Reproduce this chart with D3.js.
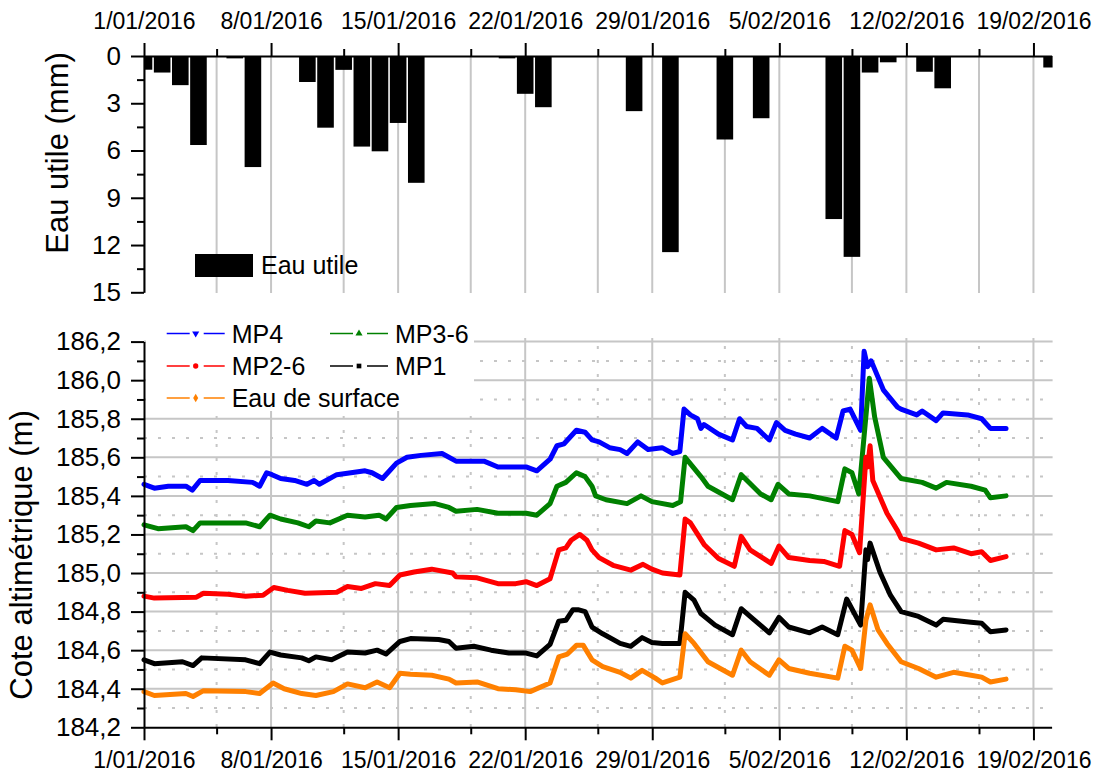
<!DOCTYPE html>
<html>
<head>
<meta charset="utf-8">
<script src="https://cdn.jsdelivr.net/npm/d3@7"></script>
<style>
  body { margin: 0; background: #fff; }
  svg { font-family: "Liberation Sans", Arial, sans-serif; }
</style>
</head>
<body>
<svg id="chart" width="1100" height="774"></svg>
<script>
// ---- data (days counted from 1/01/2016) ----
const weekTicks = [0, 7, 14, 21, 28, 35, 42, 49];
const minorTicks = [4, 11, 18, 25, 32, 39, 46];
const eauTicks = [0, 3, 6, 9, 12, 15];
const coteTicks = [184.2, 184.4, 184.6, 184.8, 185.0, 185.2, 185.4, 185.6, 185.8, 186.0, 186.2];

// daily "eau utile" (mm)
const eauDays = [0, 1, 2, 3, 5, 6, 9, 10, 11, 12, 13, 14, 15, 20, 21, 22, 27, 29, 32, 34, 38, 39, 40, 41, 43, 44, 50];
const eauVals = [0.87, 1.05, 1.85, 5.65, 0.15, 7.05, 1.65, 4.55, 0.88, 5.75, 6.05, 4.25, 8.05, 0.15, 2.4, 3.25, 3.5, 12.45, 5.3, 3.95, 10.35, 12.75, 1.05, 0.4, 1.0, 2.05, 0.73];

// water levels (m) as [day, level]
const mp4 = [[0,185.46],[0.57,185.44],[1.34,185.45],[2.31,185.45],[2.66,185.43],[3.09,185.48],[4.63,185.48],[5.98,185.47],[6.37,185.45],[6.76,185.52],[7.05,185.51],[7.53,185.49],[8.3,185.48],[8.98,185.46],[9.37,185.48],[9.66,185.46],[10.62,185.51],[11.4,185.52],[12.18,185.53],[12.56,185.52],[13.14,185.49],[13.53,185.53],[13.91,185.57],[14.49,185.6],[15.26,185.61],[16.42,185.62],[17.19,185.58],[18.73,185.58],[19.5,185.55],[21.05,185.55],[21.64,185.53],[22.37,185.59],[22.75,185.66],[23.14,185.67],[23.82,185.74],[24.3,185.73],[24.68,185.69],[25.07,185.68],[25.65,185.65],[26.23,185.64],[26.61,185.62],[27.2,185.68],[27.77,185.64],[28.54,185.65],[29.13,185.62],[29.52,185.63],[29.75,185.85],[30.1,185.82],[30.49,185.8],[30.68,185.75],[30.85,185.77],[31.65,185.72],[32.42,185.69],[32.81,185.8],[33.2,185.76],[33.77,185.75],[34.45,185.69],[34.84,185.78],[35.32,185.74],[35.9,185.72],[36.67,185.7],[37.36,185.75],[38.13,185.7],[38.51,185.84],[38.9,185.85],[39.48,185.74],[39.67,186.15],[39.86,186.07],[40.06,186.1],[40.73,185.95],[41.51,185.86],[41.7,185.85],[42.57,185.82],[42.87,185.84],[43.64,185.79],[44.02,185.83],[45.37,185.82],[46.15,185.8],[46.63,185.75],[47.49,185.75]];
const mp36 = [[0,185.25],[0.77,185.23],[2.31,185.24],[2.7,185.22],[3.09,185.26],[5.6,185.26],[6.37,185.24],[6.94,185.3],[7.53,185.28],[8.48,185.26],[9.08,185.24],[9.47,185.27],[10.24,185.26],[11.21,185.3],[12.18,185.29],[12.95,185.3],[13.33,185.28],[13.91,185.34],[14.68,185.35],[16.03,185.36],[16.8,185.34],[17.19,185.32],[18.35,185.33],[19.5,185.31],[21.05,185.31],[21.64,185.3],[22.37,185.36],[22.75,185.45],[23.24,185.47],[23.82,185.52],[24.3,185.5],[24.68,185.45],[24.88,185.4],[25.45,185.38],[26.61,185.36],[27.38,185.4],[27.98,185.37],[29.13,185.35],[29.56,185.37],[29.81,185.6],[30.68,185.5],[31.07,185.45],[32.42,185.38],[32.9,185.51],[33.97,185.41],[34.55,185.38],[34.93,185.46],[35.52,185.41],[36.67,185.4],[38.22,185.37],[38.61,185.54],[39.0,185.52],[39.38,185.41],[39.96,186.01],[40.25,185.81],[40.73,185.6],[41.71,185.49],[42.87,185.47],[43.64,185.44],[44.21,185.47],[45.56,185.45],[46.34,185.43],[46.63,185.39],[47.49,185.4]];
const mp26 = [[0,184.88],[0.57,184.87],[2.89,184.875],[3.28,184.895],[4.63,184.89],[5.6,184.88],[6.56,184.885],[7.15,184.925],[7.92,184.91],[8.87,184.895],[10.62,184.9],[11.21,184.93],[11.98,184.92],[12.75,184.945],[13.53,184.935],[14.1,184.99],[14.88,185.005],[15.85,185.02],[17.0,185.0],[17.19,184.98],[18.35,184.975],[19.5,184.945],[20.48,184.945],[21.05,184.955],[21.64,184.935],[22.37,184.97],[22.85,185.12],[23.24,185.13],[23.53,185.17],[24.01,185.2],[24.4,185.17],[24.68,185.12],[25.07,185.08],[25.84,185.04],[26.82,185.015],[27.49,185.045],[27.98,185.02],[28.56,185.0],[29.52,184.99],[29.81,185.28],[30.1,185.26],[30.88,185.145],[31.65,185.075],[32.52,185.035],[32.9,185.19],[33.39,185.12],[33.97,185.085],[34.55,185.05],[34.98,185.14],[35.52,185.08],[36.67,185.065],[37.45,185.06],[38.32,185.035],[38.61,185.22],[39.0,185.2],[39.42,185.105],[39.77,185.6],[39.86,185.55],[40.0,185.66],[40.15,185.48],[40.93,185.31],[41.51,185.22],[41.71,185.18],[42.67,185.155],[43.64,185.12],[44.6,185.13],[45.56,185.1],[46.15,185.11],[46.63,185.065],[47.49,185.085]];
const mp1 = [[0,184.55],[0.57,184.53],[2.12,184.54],[2.7,184.52],[3.18,184.56],[5.6,184.55],[6.37,184.53],[6.94,184.59],[7.53,184.575],[8.69,184.56],[9.08,184.545],[9.47,184.565],[10.34,184.55],[11.21,184.59],[12.18,184.585],[12.84,184.6],[13.33,184.58],[14.1,184.645],[14.68,184.66],[16.23,184.655],[16.8,184.645],[17.19,184.61],[18.17,184.62],[19.12,184.6],[20.1,184.585],[21.05,184.585],[21.64,184.57],[22.37,184.63],[22.85,184.75],[23.24,184.755],[23.63,184.81],[23.91,184.81],[24.3,184.8],[24.68,184.72],[25.27,184.685],[26.23,184.635],[26.82,184.62],[27.44,184.665],[27.98,184.64],[28.56,184.635],[29.52,184.635],[29.81,184.9],[30.3,184.86],[30.68,184.79],[31.46,184.73],[32.42,184.68],[32.9,184.815],[33.39,184.775],[34.45,184.69],[34.98,184.77],[35.52,184.72],[36.67,184.69],[37.36,184.72],[38.22,184.68],[38.71,184.865],[39.48,184.73],[39.77,185.12],[39.86,185.07],[40.0,185.155],[40.54,185.005],[41.12,184.885],[41.71,184.8],[42.67,184.775],[43.64,184.73],[44.02,184.76],[45.56,184.745],[46.15,184.74],[46.63,184.695],[47.49,184.705]];
const surface = [[0,184.385],[0.57,184.365],[2.31,184.375],[2.7,184.36],[3.28,184.39],[5.6,184.385],[6.37,184.375],[7.11,184.43],[7.72,184.4],[8.69,184.375],[9.47,184.365],[10.43,184.385],[11.21,184.425],[12.18,184.405],[12.84,184.435],[13.53,184.405],[14.1,184.48],[14.68,184.475],[15.85,184.47],[16.8,184.45],[17.19,184.43],[18.35,184.435],[19.5,184.4],[20.48,184.395],[21.27,184.385],[22.37,184.43],[22.85,184.565],[23.33,184.58],[23.82,184.625],[24.2,184.625],[24.68,184.55],[25.27,184.515],[26.23,184.485],[26.82,184.455],[27.44,184.495],[28.17,184.455],[28.56,184.43],[29.52,184.46],[29.81,184.685],[30.3,184.635],[31.07,184.54],[32.42,184.47],[32.9,184.6],[33.39,184.54],[34.45,184.47],[34.98,184.55],[35.52,184.505],[36.67,184.48],[38.22,184.455],[38.61,184.62],[39.0,184.6],[39.48,184.505],[39.77,184.755],[40.0,184.835],[40.44,184.705],[40.93,184.635],[41.71,184.54],[42.67,184.505],[43.64,184.46],[44.6,184.485],[45.56,184.47],[46.15,184.46],[46.63,184.435],[47.49,184.45]];

const seriesNames = ['MP4', 'MP3-6', 'MP2-6', 'MP1', 'Eau de surface'];
const seriesData = [mp4, mp36, mp26, mp1, surface];
const seriesColors = ['#0000ff', '#008000', '#ff0000', '#000000', '#ff8000'];
const seriesMarkers = [d3.symbolTriangle, d3.symbolTriangle, d3.symbolCircle, d3.symbolSquare, d3.symbolDiamond];

// ---- layout ----
const FONT = '"Liberation Sans", Arial, sans-serif';
const left = 144, right = 1051.6;
const grid = '#c6c6c6';
const svg = d3.select('#chart');

const start = new Date(2016, 0, 1);
const toDate = d => new Date(start.getTime() + d * 864e5);

const x = d3.scaleTime().domain([toDate(0), toDate(50)]).range([left, right]);
const yTop = d3.scaleLinear().domain([0, 15]).range([56, 292.3]);
const yBot = d3.scaleLinear().domain([184.2, 186.2]).range([727.3, 341.6]);

const fmtDate = d3.timeFormat('%-d/%m/%Y');
const fmtCote = v => d3.format('.1f')(v).replace('.', ',');

function styleAxis(g, size) {
    g.attr('font-family', FONT).attr('font-size', size);
    g.selectAll('path, line').attr('stroke', '#000').attr('stroke-width', 2);
    g.selectAll('text').attr('fill', '#000');
}

// ---- top panel: eau utile ----
svg.append('defs').append('clipPath').attr('id', 'clipTop')
    .append('rect').attr('x', left).attr('y', 56).attr('width', right + 1 - left).attr('height', 240);

svg.append('g').selectAll('line')
    .data(weekTicks.concat(minorTicks))
    .join('line')
    .attr('x1', d => x(toDate(d))).attr('x2', d => x(toDate(d)))
    .attr('y1', 56).attr('y2', 293)
    .attr('stroke', grid).attr('stroke-width', 2);

const barW = 16.6;
svg.append('g').attr('clip-path', 'url(#clipTop)')
    .selectAll('rect')
    .data(eauDays.map((d, i) => [d, eauVals[i]]))
    .join('rect')
    .attr('x', d => x(toDate(d[0])) - barW / 2)
    .attr('y', yTop(0))
    .attr('width', barW)
    .attr('height', d => yTop(d[1]) - yTop(0))
    .attr('fill', '#000');

svg.append('g').attr('transform', 'translate(0,56)')
    .call(d3.axisTop(x).tickValues(minorTicks.map(toDate)).tickFormat('').tickSize(7))
    .call(g => g.select('.domain').remove())
    .call(g => styleAxis(g, 23));
svg.append('g').attr('transform', 'translate(0,56)')
    .call(d3.axisTop(x).tickValues(weekTicks.map(toDate)).tickFormat(fmtDate)
        .tickSize(13).tickSizeOuter(0).tickPadding(14))
    .call(g => styleAxis(g, 23));

svg.append('g').attr('transform', `translate(${left},0)`)
    .call(d3.axisLeft(yTop).tickValues(eauTicks.slice(0, -1).map(v => v + 1.5)).tickFormat('').tickSize(7))
    .call(g => g.select('.domain').remove())
    .call(g => styleAxis(g, 26));
svg.append('g').attr('transform', `translate(${left},0)`)
    .call(d3.axisLeft(yTop).tickValues(eauTicks).tickSize(13).tickSizeOuter(0).tickPadding(10))
    .call(g => styleAxis(g, 26));

// legend top
svg.append('rect').attr('x', 195).attr('y', 254).attr('width', 58).attr('height', 23).attr('fill', '#000');
svg.append('text').attr('x', 261).attr('y', 274).attr('font-size', 25).attr('font-family', FONT).text('Eau utile');

svg.append('text')
    .attr('transform', 'translate(68,153) rotate(-90)')
    .attr('text-anchor', 'middle').attr('font-size', 31).attr('font-family', FONT)
    .text('Eau utile (mm)');

// ---- bottom panel: cote altimétrique ----
const gGrid = svg.append('g');
const minorLevels = coteTicks.slice(0, -1).map(v => v + 0.1);
gGrid.selectAll('line.hmin').data(minorLevels).join('line').attr('class', 'hmin')
    .attr('x1', left).attr('x2', right + 1).attr('y1', d => yBot(d)).attr('y2', d => yBot(d))
    .attr('stroke', grid).attr('stroke-width', 2).attr('stroke-dasharray', '3,11');
gGrid.selectAll('line.vmin').data(minorTicks).join('line').attr('class', 'vmin')
    .attr('x1', d => x(toDate(d))).attr('x2', d => x(toDate(d))).attr('y1', 727).attr('y2', 338)
    .attr('stroke', grid).attr('stroke-width', 2).attr('stroke-dasharray', '3,11');
gGrid.selectAll('line.hmaj').data(coteTicks.slice(1)).join('line').attr('class', 'hmaj')
    .attr('x1', left).attr('x2', right + 1).attr('y1', d => yBot(d)).attr('y2', d => yBot(d))
    .attr('stroke', grid).attr('stroke-width', 2);
gGrid.selectAll('line.vmaj').data(weekTicks.slice(1)).join('line').attr('class', 'vmaj')
    .attr('x1', d => x(toDate(d))).attr('x2', d => x(toDate(d))).attr('y1', 727).attr('y2', 338)
    .attr('stroke', grid).attr('stroke-width', 2);

const line = d3.line().x(d => x(toDate(d[0]))).y(d => yBot(d[1]));
svg.append('g').selectAll('path')
    .data(seriesData)
    .join('path')
    .attr('d', line)
    .attr('fill', 'none')
    .attr('stroke', (d, i) => seriesColors[i])
    .attr('stroke-width', 5)
    .attr('stroke-linejoin', 'round')
    .attr('stroke-linecap', 'round');

// legend bottom
svg.append('rect').attr('x', 146).attr('y', 318).attr('width', 328).attr('height', 93).attr('fill', '#fff');
const legPos = [[166.7, 333.5], [330, 333.5], [166.7, 366], [330, 366], [166.7, 398]];
const leg = svg.append('g').attr('font-family', FONT).attr('font-size', 25);
seriesNames.forEach((name, i) => {
    const [lx, ly] = legPos[i];
    const g = leg.append('g').attr('transform', `translate(${lx},${ly})`);
    g.append('line').attr('x1', 0).attr('x2', 23).attr('y1', 0).attr('y2', 0)
        .attr('stroke', seriesColors[i]).attr('stroke-width', 1.5);
    g.append('line').attr('x1', 37).attr('x2', 58).attr('y1', 0).attr('y2', 0)
        .attr('stroke', seriesColors[i]).attr('stroke-width', 1.5);
    g.append('path')
        .attr('d', d3.symbol().type(seriesMarkers[i]).size(22)())
        .attr('transform', `translate(29,0) rotate(${i === 0 ? 180 : 0})`)
        .attr('fill', seriesColors[i]);
    g.append('text').attr('x', 65).attr('y', 9).text(name);
});

svg.append('g').attr('transform', 'translate(0,727.3)')
    .call(d3.axisBottom(x).tickValues(minorTicks.map(toDate)).tickFormat('').tickSize(7))
    .call(g => g.select('.domain').remove())
    .call(g => styleAxis(g, 23));
svg.append('g').attr('transform', 'translate(0,727.3)')
    .call(d3.axisBottom(x).tickValues(weekTicks.map(toDate)).tickFormat(fmtDate)
        .tickSize(13).tickSizeOuter(0).tickPadding(11))
    .call(g => styleAxis(g, 23));

svg.append('g').attr('transform', `translate(${left},0)`)
    .call(d3.axisLeft(yBot).tickValues(minorLevels).tickFormat('').tickSize(7))
    .call(g => g.select('.domain').remove())
    .call(g => styleAxis(g, 26));
svg.append('g').attr('transform', `translate(${left},0)`)
    .call(d3.axisLeft(yBot).tickValues(coteTicks).tickFormat(fmtCote)
        .tickSize(13).tickSizeOuter(0).tickPadding(10))
    .call(g => styleAxis(g, 26));

svg.append('text')
    .attr('transform', 'translate(32,555) rotate(-90)')
    .attr('text-anchor', 'middle').attr('font-size', 31).attr('font-family', FONT)
    .text('Cote altimétrique (m)');
</script>
</body>
</html>
